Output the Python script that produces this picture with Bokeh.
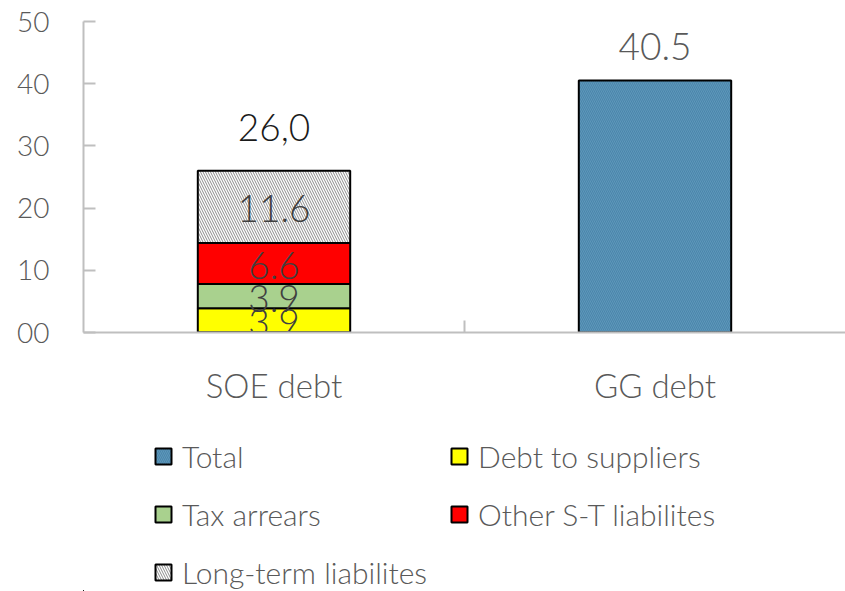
from bokeh.plotting import figure
from bokeh.layouts import column
from bokeh.models import Range1d, FixedTicker, Legend, LegendItem, ColumnDataSource
from bokeh.core.properties import value
from bokeh.embed import file_html
from bokeh.resources import INLINE

# ---- data ----
categories = ["SOE debt", "GG debt"]
series_names = ["Total", "Debt to suppliers", "Tax arrears", "Other S-T liabilites", "Long-term liabilites"]
debt_to_suppliers = [3.9, 0.0]
tax_arrears = [3.9, 0.0]
other_st = [6.6, 0.0]
long_term = [11.6, 0.0]
total = [0.0, 40.5]
total_labels = ["26,0", "40.5"]
y_ticks = [0, 10, 20, 30, 40, 50]
y_tick_labels = ["00", "10", "20", "30", "40", "50"]

FONT_S = "Lato Light, Lato"
FONT = value(FONT_S)
GREY = "#595959"
AX = "#BFBFBF"

x_pos = [i + 0.5 for i in range(len(categories))]
bar_w = 0.40

MAIN_H = 436
p = figure(width=845, height=MAIN_H, output_backend="svg", toolbar_location=None,
           x_range=Range1d(0, 2.0), y_range=Range1d(0, 50),
           min_border_left=83, min_border_right=0, min_border_top=21, min_border_bottom=MAIN_H - 332)
p.outline_line_color = None
p.background_fill_color = "white"
p.border_fill_color = "white"

# styles per series (Total, Debt to suppliers, Tax arrears, Other S-T, Long-term)
styles = [
    dict(fill_color="#4A86AB", hatch_pattern="\\", hatch_color="#5E97BA", hatch_scale=4, hatch_weight=1),
    dict(fill_color="#FFFF00"),
    dict(fill_color="#A9D18E"),
    dict(fill_color="#FF0000"),
    dict(fill_color="white", hatch_pattern="\\", hatch_color="#8c8c8c", hatch_scale=5, hatch_weight=1),
]

# stacked SOE segments
sources = [ColumnDataSource(dict(x=x_pos, bottom=[0.0] * len(categories), top=total))]
bottoms = [0.0] * len(categories)
seg_label_x, seg_label_y, seg_label_t = [], [], []
for vals in [debt_to_suppliers, tax_arrears, other_st, long_term]:
    tops = [b + v for b, v in zip(bottoms, vals)]
    sources.append(ColumnDataSource(dict(x=x_pos, bottom=bottoms, top=tops)))
    for xi, b, v in zip(x_pos, bottoms, vals):
        if v > 0:
            seg_label_x.append(xi)
            seg_label_y.append(b + v / 2)
            seg_label_t.append(f"{v:.1f}")
    bottoms = tops

for k in [1, 2, 3, 4, 0]:
    p.vbar(x="x", bottom="bottom", top="top", width=bar_w, source=sources[k],
           line_color="black", line_width=2, **styles[k])

# segment labels
p.text(x=seg_label_x, y=seg_label_y, text=seg_label_t, text_align="center", text_baseline="middle",
       text_font=FONT, text_font_size="37px", text_color="#404040", y_offset=2)

# total labels
tops_all = [max(a, b) for a, b in zip(bottoms, total)]
p.text(x=x_pos[:1], y=tops_all[:1], text=total_labels[:1], text_align="center", text_baseline="middle",
       text_font=FONT, text_font_size="37px", text_color="#1a1a1a", y_offset=-43)
p.text(x=x_pos[1:], y=tops_all[1:], text=total_labels[1:], text_align="center", text_baseline="middle",
       text_font=FONT, text_font_size="37px", text_color=GREY, y_offset=-34)

# axes
p.yaxis.ticker = FixedTicker(ticks=y_ticks)
p.yaxis.major_label_overrides = {t: l for t, l in zip(y_ticks, y_tick_labels)}
p.yaxis.axis_line_color = AX
p.yaxis.axis_line_width = 2
p.yaxis.major_tick_line_color = AX
p.yaxis.major_tick_line_width = 2
p.yaxis.major_tick_in = 12
p.yaxis.major_tick_out = 0
p.yaxis.minor_tick_line_color = None
p.yaxis.major_label_standoff = 34
p.yaxis.major_label_text_font = FONT_S
p.yaxis.major_label_text_font_size = "28px"
p.yaxis.major_label_text_color = GREY

p.xaxis.ticker = FixedTicker(ticks=x_pos, minor_ticks=[1.0])
p.xaxis.major_label_overrides = {x: c for x, c in zip(x_pos, categories)}
p.xaxis.axis_line_color = AX
p.xaxis.axis_line_width = 2
p.xaxis.major_tick_line_color = None
p.xaxis.minor_tick_line_color = AX
p.xaxis.minor_tick_line_width = 2
p.xaxis.minor_tick_in = 12
p.xaxis.minor_tick_out = 0
p.xaxis.major_label_standoff = 26
p.xaxis.major_label_text_font = FONT_S
p.xaxis.major_label_text_font_size = "33px"
p.xaxis.major_label_text_color = GREY

p.xgrid.grid_line_color = None
p.ygrid.ticker = FixedTicker(ticks=[y_ticks[-1]])
p.ygrid.grid_line_color = AX
p.ygrid.grid_line_width = 2

# ---- legend strip below the chart (same series, drawn out of view; only the legend shows) ----
LEG_H = 591 - MAIN_H
lf = figure(width=845, height=LEG_H, output_backend="svg", toolbar_location=None,
            x_range=Range1d(1000, 1001), y_range=Range1d(1000, 1001),
            x_axis_location=None, y_axis_location=None,
            min_border_left=0, min_border_right=0, min_border_top=0, min_border_bottom=0)
lf.outline_line_color = None
lf.xgrid.grid_line_color = None
lf.ygrid.grid_line_color = None
leg_r = [lf.vbar(x="x", bottom="bottom", top="top", width=bar_w, source=sources[k],
                 line_color="black", line_width=2, **styles[k]) for k in range(5)]

# column-major order: col 1 = Total, Tax arrears, Long-term; col 2 = Debt to suppliers, Other S-T
order = [0, 2, 4, 1, 3]
items = [LegendItem(label=series_names[i], renderers=[leg_r[i]]) for i in order]
lg = Legend(items=items, location=(70, 1), orientation="vertical", nrows=3,
            label_text_font=FONT_S, label_text_font_size="30px", label_text_color=GREY,
            glyph_width=20, glyph_height=20, label_height=36, label_width=238, spacing=22,
            label_standoff=9, padding=0, margin=0, border_line_color=None,
            background_fill_alpha=0)
lf.add_layout(lg, "center")

open("out.html", "w").write(file_html(column(p, lf, spacing=0), INLINE))
